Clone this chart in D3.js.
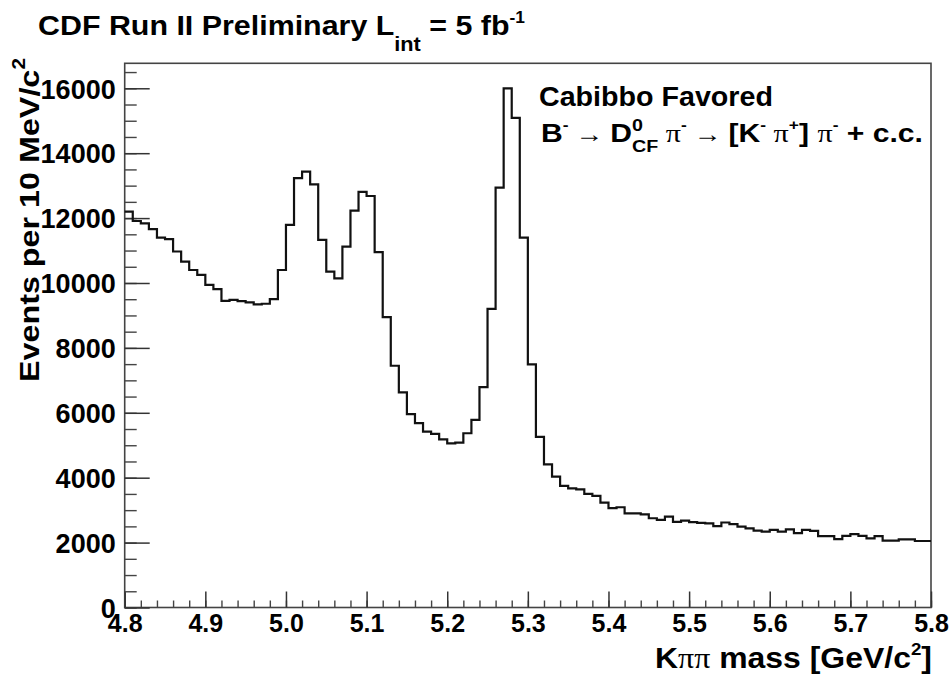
<!DOCTYPE html>
<html><head><meta charset="utf-8">
<script src="https://cdn.jsdelivr.net/npm/d3@7"></script>
<style>body{margin:0;background:#fff} text{white-space:pre}</style>
</head><body><svg id="c" width="949" height="679"></svg>
<script>
// ---- data ----
const massStart = 4.8, massEnd = 5.8, binWidth = 0.01;   // GeV/c^2, 10 MeV bins
const events = [
 12200,11910,11840,11660,11400,11350,10970,10660,10400,10250,
 9940,9810,9450,9480,9440,9400,9340,9360,9500,10400,
 11790,13230,13430,13040,11330,10350,10140,11120,12230,12810,
 12680,10950,8950,7450,6630,5960,5680,5420,5350,5180,
 5060,5080,5370,5780,6790,9200,12940,16000,15090,11400,
 7490,5260,4410,4030,3750,3670,3640,3500,3440,3230,
 3060,3090,2900,2900,2870,2750,2700,2800,2640,2680,
 2630,2610,2590,2510,2620,2570,2490,2440,2370,2340,
 2390,2340,2410,2290,2390,2360,2200,2200,2110,2210,
 2260,2210,2130,2200,2060,2060,2100,2100,2050,2050
];
const xMajorTicks = [4.8,4.9,5.0,5.1,5.2,5.3,5.4,5.5,5.6,5.7,5.8];
const xTickLabels = ["4.8","4.9","5.0","5.1","5.2","5.3","5.4","5.5","5.6","5.7","5.8"];
const yMajorTicks = [0,2000,4000,6000,8000,10000,12000,14000,16000];
const yTickLabels = ["0","2000","4000","6000","8000","10000","12000","14000","16000"];
const yMax = 16770;

// ---- layout ----
const L = 124.7, R = 931, T = 63.3, B = 607.5;
const SANS = "'Liberation Sans', Arial, Helvetica, sans-serif";
const SERIF = "'Liberation Serif', 'Times New Roman', serif";
const svg = d3.select("#c");

const x = d3.scaleLinear().domain([massStart, massEnd]).range([L, R]);
const y = d3.scaleLinear().domain([0, yMax]).range([B, T]);

// frame
svg.append("rect").attr("x", L).attr("y", T).attr("width", R - L).attr("height", B - T)
  .attr("fill", "none").attr("stroke", "#444").attr("stroke-width", 1.6);

// x axis minor ticks
const xMinor = d3.range(0, 51).map(i => massStart + i * 0.02);
svg.append("g").attr("transform", `translate(0,${B})`)
  .call(d3.axisBottom(x).tickValues(xMinor).tickSize(-7).tickFormat(""))
  .call(g => g.select(".domain").remove())
  .call(g => g.selectAll("line").attr("stroke", "#444").attr("stroke-width", 1.4));
// x axis major
svg.append("g").attr("transform", `translate(0,${B})`)
  .call(d3.axisBottom(x).tickValues(xMajorTicks).tickSize(-16).tickPadding(0)
        .tickFormat((d, i) => xTickLabels[i]))
  .call(g => g.select(".domain").remove())
  .call(g => g.selectAll("line").attr("stroke", "#333").attr("stroke-width", 1.5))
  .call(g => g.selectAll("text").attr("y", 24.5).attr("dy", null)
        .style("font-family", SANS).style("font-weight", "bold").style("font-size", "25px").attr("fill", "#000"));

// y axis minor
const yMinor = d3.range(0, 34).map(i => i * 500);
svg.append("g").attr("transform", `translate(${L},0)`)
  .call(d3.axisLeft(y).tickValues(yMinor).tickSize(-12).tickFormat(""))
  .call(g => g.select(".domain").remove())
  .call(g => g.selectAll("line").attr("stroke", "#444").attr("stroke-width", 1.4));
// y axis major
svg.append("g").attr("transform", `translate(${L},0)`)
  .call(d3.axisLeft(y).tickValues(yMajorTicks).tickSize(-25)
        .tickFormat((d, i) => yTickLabels[i]))
  .call(g => g.select(".domain").remove())
  .call(g => g.selectAll("line").attr("stroke", "#333").attr("stroke-width", 1.5))
  .call(g => g.selectAll("text").attr("x", -9).attr("dy", "0.36em")
        .style("font-family", SANS).style("font-weight", "bold").style("font-size", "27px").attr("fill", "#000"));

// histogram
const pts = events.map((v, i) => [massStart + i * binWidth, v]);
pts.push([massEnd, events[events.length - 1]]);
svg.append("path").datum(pts)
  .attr("d", d3.line().x(d => x(d[0])).y(d => y(d[1])).curve(d3.curveStepAfter))
  .attr("fill", "none").attr("stroke", "#111").attr("stroke-width", 2.2);

// rich text helper: segments laid out left to right, optionally fitted to a target width
function rich(parent, px, py, segs, targetW, anchorEnd) {
  const g = parent.append("g");
  let cx = 0, held = 0;
  segs.forEach(s => {
    const t = g.append("text").attr("x", cx).attr("y", s.dy || 0)
      .attr("xml:space", "preserve")
      .style("font-family", s.fam || SANS).style("font-weight", s.w || "bold")
      .style("font-size", s.size + "px").attr("fill", "#000").text(s.t);
    const w = t.node().getComputedTextLength();
    if (s.hold) { held = w; } else { cx += Math.max(w, held); held = 0; }
  });
  const k = targetW ? targetW / cx : 1;
  g.attr("transform", `translate(${anchorEnd ? px - cx * k : px},${py}) scale(${k},1)`);
  return g;
}

// title
rich(svg, 38, 35, [
  {t: "CDF Run II Preliminary L", size: 28},
  {t: "int", size: 20, dy: 16},
  {t: " = 5 fb", size: 28},
  {t: "-1", size: 16, dy: -12}
], 487);

// legend
rich(svg, 539, 106, [{t: "Cabibbo Favored", size: 28}], 234);
rich(svg, 541, 142, [
  {t: "B", size: 26},
  {t: "-", size: 15, dy: -12},
  {t: " \u2192 ", size: 24, w: "normal", fam: SERIF},
  {t: "D", size: 26},
  {t: "0", size: 17, dy: -11, hold: true},
  {t: "CF", size: 17, dy: 10},
  {t: " \u03c0", size: 26, w: "normal", fam: SERIF},
  {t: "-", size: 15, dy: -12},
  {t: " \u2192 ", size: 24, w: "normal", fam: SERIF},
  {t: "[K", size: 26},
  {t: "-", size: 15, dy: -12},
  {t: " \u03c0", size: 26, w: "normal", fam: SERIF},
  {t: "+", size: 15, dy: -12},
  {t: "] ", size: 26},
  {t: "\u03c0", size: 26, w: "normal", fam: SERIF},
  {t: "-", size: 15, dy: -12},
  {t: " + c.c.", size: 26}
], 382);

// x title
rich(svg, 932, 668, [
  {t: "K", size: 29},
  {t: "\u03c0\u03c0", size: 29, w: "normal", fam: SERIF},
  {t: " mass [GeV/c", size: 29},
  {t: "2", size: 17, dy: -13},
  {t: "]", size: 29}
], 277, true);

// y title
const yt = svg.append("g").attr("transform", "translate(39,58) rotate(-90)");
rich(yt, 0, 0, [
  {t: "Events per 10 MeV/c", size: 28},
  {t: "2", size: 18, dy: -14}
], 324, true);
</script>
</body></html>
